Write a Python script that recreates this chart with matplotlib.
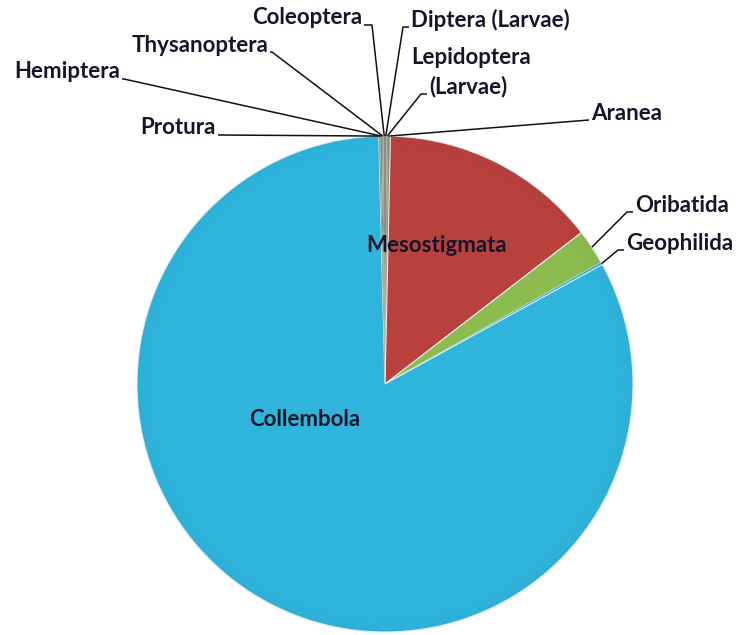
import matplotlib.pyplot as plt
import numpy as np

plt.rcParams['font.family'] = ['Lato', 'DejaVu Sans']

# order clockwise from 12 o'clock
taxa = ['Diptera (Larvae)', 'Lepidoptera (Larvae)', 'Aranea', 'Mesostigmata', 'Oribatida',
        'Geophilida', 'Collembola', 'Protura', 'Hemiptera', 'Thysanoptera', 'Coleoptera']
share = [0.1, 0.1, 0.15, 14.2, 2.3, 0.15, 82.6, 0.1, 0.1, 0.1, 0.1]
colours = ['#8c9080', '#9a9e8c', '#868a7a', '#b8413e', '#8cbb4e', '#2aa8d6', '#2fb4dc',
           '#9a9e8c', '#868a7a', '#9a9e8c', '#8c9080']

fig = plt.figure(figsize=(7.42, 6.35), dpi=100)
ax = fig.add_axes([0, 0, 1, 1])

cx, cy, r = 385, 251, 248
wedges, _ = ax.pie(share, colors=colours, startangle=90, counterclock=False,
                   center=(cx, cy), radius=r, frame=True,
                   wedgeprops=dict(linewidth=0))
for w, s in zip(wedges, share):
    if s > 1:
        w.set_edgecolor('#e4eef1')
        w.set_linewidth(0.8)
ax.set_xlim(0, 742)
ax.set_ylim(0, 635)
ax.set_aspect('equal')
ax.axis('off')

# slight darkening toward the rim
for k in range(20):
    ax.add_patch(plt.Circle((cx, cy), r - k * 1.0, fill=False, lw=1.0,
                            color='k', alpha=0.012 * (20 - k) / 20))


def rim(w):
    a = np.deg2rad((w.theta1 + w.theta2) / 2)
    return cx + r * np.cos(a), cy + r * np.sin(a)


font = dict(fontsize=16, fontweight='bold', color='#15152a')

# outside labels: (text x, text y, ha, elbow x)
labels = {
    'Coleoptera': (362, 617, 'right', 372),
    'Thysanoptera': (268, 590, 'right', 272),
    'Hemiptera': (120, 563, 'right', 124),
    'Protura': (216, 507, 'right', 218),
    'Diptera (Larvae)': (411, 615, 'left', 403),
    'Lepidoptera (Larvae)': (429, 548, 'left', 421),
    'Aranea': (591, 522, 'left', 589),
    'Oribatida': (635, 430, 'left', 627),
    'Geophilida': (626, 392, 'left', 618),
}

for w, name in zip(wedges, taxa):
    if name not in labels:
        continue
    tx, ty, ha, ex = labels[name]
    px, py = rim(w)
    if name == 'Lepidoptera (Larvae)':
        ax.text(411, ty + 29, 'Lepidoptera', ha='left', va='center', **font)
        ax.text(tx, ty, '(Larvae)', ha='left', va='center', **font)
    else:
        ax.text(tx, ty, name, ha=ha, va='center', **font)
    ly = ty - 7
    ax.plot([tx + (2 if ha == 'right' else -2), ex, px], [ly, ly, py],
            color='#111111', lw=1.1, solid_capstyle='butt')

ax.text(437, 389, 'Mesostigmata', ha='center', va='center', **font)
ax.text(305, 215, 'Collembola', ha='center', va='center', **font)

fig.savefig('out.png', dpi=100)
